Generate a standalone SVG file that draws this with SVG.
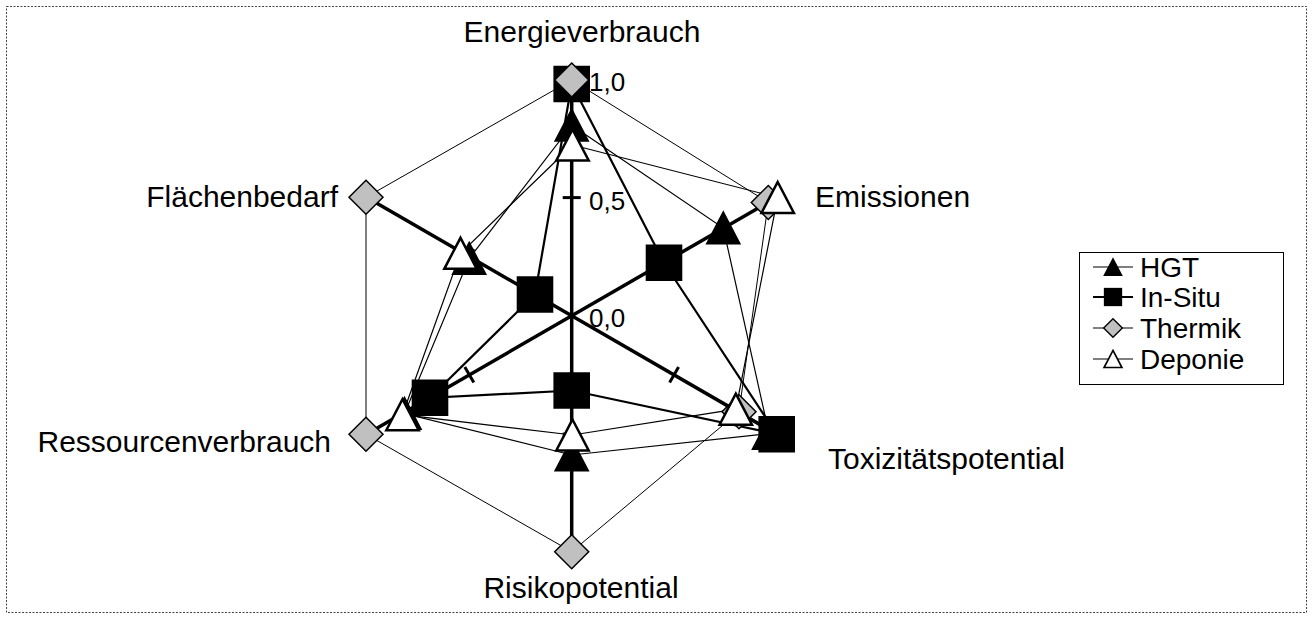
<svg xmlns="http://www.w3.org/2000/svg" xmlns:xlink="http://www.w3.org/1999/xlink" width="1313" height="619" viewBox="0 0 1313 619">
  <style>
    text { font-family: "Liberation Sans", Arial, sans-serif; fill: #000; }
    .lbl { font-size: 30px; }
    .val { font-size: 26px; }
    .leg { font-size: 28px; }
    .spoke { stroke: #000; stroke-width: 3.5; fill: none; }
    .tick { stroke: #000; stroke-width: 3; }
    .s-hgt { stroke: #000; stroke-width: 1.2; fill: none; }
    .s-insitu { stroke: #000; stroke-width: 2.2; fill: none; }
    .s-thermik { stroke: #000; stroke-width: 1; fill: none; }
    .s-deponie { stroke: #000; stroke-width: 1.2; fill: none; }
    .m-hgt { fill: #000; stroke: #000; stroke-width: 2; }
    .m-insitu { fill: #000; }
    .m-thermik { fill: #C0C0C0; stroke: #000; stroke-width: 1.5; }
    .m-deponie { fill: #fff; stroke: #000; stroke-width: 2.5; }
  </style>
  <defs>
    <path id="sq" d="M-18.3,-18.3h36.6v36.6h-36.6z"/>
    <path id="tri" d="M0,-15.5L16.2,15.5H-16.2Z"/>
    <path id="dia" d="M0,-17L17,0L0,17L-17,0Z"/>
  </defs>

  <rect width="1313" height="619" fill="#fff"/>
  <!-- dotted chart frame -->
  <rect x="6.5" y="6.5" width="1300" height="606" fill="none" stroke="#444" stroke-width="1" stroke-dasharray="2,1.5"/>

  <!-- radar axes: centre (571.7,315.8), radius 236.5 -->
  <g id="axes">
    <line class="spoke" x1="571.7" y1="315.8" x2="571.7" y2="79.3"/>
    <line class="spoke" x1="571.7" y1="315.8" x2="776.5" y2="197.5"/>
    <line class="spoke" x1="571.7" y1="315.8" x2="776.5" y2="434.1"/>
    <line class="spoke" x1="571.7" y1="315.8" x2="571.7" y2="552.3"/>
    <line class="spoke" x1="571.7" y1="315.8" x2="366.9" y2="434.1"/>
    <line class="spoke" x1="571.7" y1="315.8" x2="366.9" y2="197.5"/>
    <!-- 0,5 tick marks -->
    <line class="tick" x1="562.7" y1="197.6" x2="580.7" y2="197.6"/>
    <line class="tick" x1="669.6" y1="249.1" x2="678.6" y2="264.7"/>
    <line class="tick" x1="678.6" y1="366.9" x2="669.6" y2="382.5"/>
    <line class="tick" x1="562.7" y1="434.1" x2="580.7" y2="434.1"/>
    <line class="tick" x1="464.8" y1="366.9" x2="473.8" y2="382.5"/>
    <line class="tick" x1="473.8" y1="249.1" x2="464.8" y2="264.7"/>
  </g>

  <g id="connectors">
    <polygon class="s-hgt" points="571.7,125.2 723.3,228 769,433.5 571.7,455 404.5,413.5 469.2,258.5"/>
    <polygon class="s-insitu" points="571.7,84 664,262.8 776.7,434.2 571.7,390.5 430,397.8 535,294.5"/>
    <polygon class="s-thermik" points="571.7,80 768.3,202.5 739,411.7 571.7,551.7 366,434.3 366,197.3"/>
    <polygon class="s-deponie" points="572.5,145 777.7,197.5 735.8,409.2 572.5,435 402.5,414.7 460.5,253.3"/>
  </g>

  <g id="series-hgt">
    <use xlink:href="#tri" class="m-hgt" x="571.7" y="125.2"/>
    <use xlink:href="#tri" class="m-hgt" x="723.3" y="228"/>
    <use xlink:href="#tri" class="m-hgt" x="769" y="433.5"/>
    <use xlink:href="#tri" class="m-hgt" x="571.7" y="455"/>
    <use xlink:href="#tri" class="m-hgt" x="404.5" y="413.5"/>
    <use xlink:href="#tri" class="m-hgt" x="469.2" y="258.5"/>
  </g>
  <g id="series-insitu">
    <use xlink:href="#sq" class="m-insitu" x="571.7" y="84"/>
    <use xlink:href="#sq" class="m-insitu" x="664" y="262.8"/>
    <use xlink:href="#sq" class="m-insitu" x="776.7" y="434.2"/>
    <use xlink:href="#sq" class="m-insitu" x="571.7" y="390.5"/>
    <use xlink:href="#sq" class="m-insitu" x="430" y="397.8"/>
    <use xlink:href="#sq" class="m-insitu" x="535" y="294.5"/>
  </g>
  <g id="series-thermik">
    <use xlink:href="#dia" class="m-thermik" x="571.7" y="80"/>
    <use xlink:href="#dia" class="m-thermik" x="768.3" y="202.5"/>
    <use xlink:href="#dia" class="m-thermik" x="739" y="411.7"/>
    <use xlink:href="#dia" class="m-thermik" x="571.7" y="551.7"/>
    <use xlink:href="#dia" class="m-thermik" x="366" y="434.3"/>
    <use xlink:href="#dia" class="m-thermik" x="366" y="197.3"/>
  </g>
  <g id="series-deponie">
    <use xlink:href="#tri" class="m-deponie" x="572.5" y="145"/>
    <use xlink:href="#tri" class="m-deponie" x="777.7" y="197.5"/>
    <use xlink:href="#tri" class="m-deponie" x="735.8" y="409.2"/>
    <use xlink:href="#tri" class="m-deponie" x="572.5" y="435"/>
    <use xlink:href="#tri" class="m-deponie" x="402.5" y="414.7"/>
    <use xlink:href="#tri" class="m-deponie" x="460.5" y="253.3"/>
  </g>

  <g id="scale-labels">
    <text class="val" x="589" y="91">1,0</text>
    <text class="val" x="589" y="210">0,5</text>
    <text class="val" x="589" y="327">0,0</text>
  </g>

  <g id="axis-labels">
    <text class="lbl" id="lbl-energie" x="582" y="42" text-anchor="middle">Energieverbrauch</text>
    <text class="lbl" id="lbl-emissionen" x="815" y="207">Emissionen</text>
    <text class="lbl" id="lbl-tox" x="828" y="469">Toxizitätspotential</text>
    <text class="lbl" id="lbl-risiko" x="581" y="598" text-anchor="middle">Risikopotential</text>
    <text class="lbl" id="lbl-ressourcen" x="331" y="452" text-anchor="end">Ressourcenverbrauch</text>
    <text class="lbl" id="lbl-flaeche" x="338" y="207" text-anchor="end">Flächenbedarf</text>
  </g>

  <g id="legend">
    <rect x="1079.5" y="252.5" width="204" height="132" fill="#fff" stroke="#000" stroke-width="1"/>
    <line class="s-hgt" x1="1093" y1="267" x2="1133" y2="267"/>
    <use xlink:href="#tri" class="m-hgt" transform="translate(1113,267) scale(0.55)"/>
    <text class="leg" x="1140" y="277">HGT</text>
    <line class="s-insitu" x1="1093" y1="297" x2="1133" y2="297"/>
    <use xlink:href="#sq" class="m-insitu" transform="translate(1113,297) scale(0.5)"/>
    <text class="leg" x="1140" y="307">In-Situ</text>
    <line class="s-thermik" x1="1093" y1="328" x2="1133" y2="328"/>
    <use xlink:href="#dia" class="m-thermik" transform="translate(1113,328) scale(0.55)" style="stroke-width:2.5"/>
    <text class="leg" x="1140" y="338">Thermik</text>
    <line class="s-deponie" x1="1093" y1="359" x2="1133" y2="359"/>
    <use xlink:href="#tri" class="m-deponie" transform="translate(1113,359) scale(0.55)" style="stroke-width:3"/>
    <text class="leg" x="1140" y="369">Deponie</text>
  </g>
</svg>
